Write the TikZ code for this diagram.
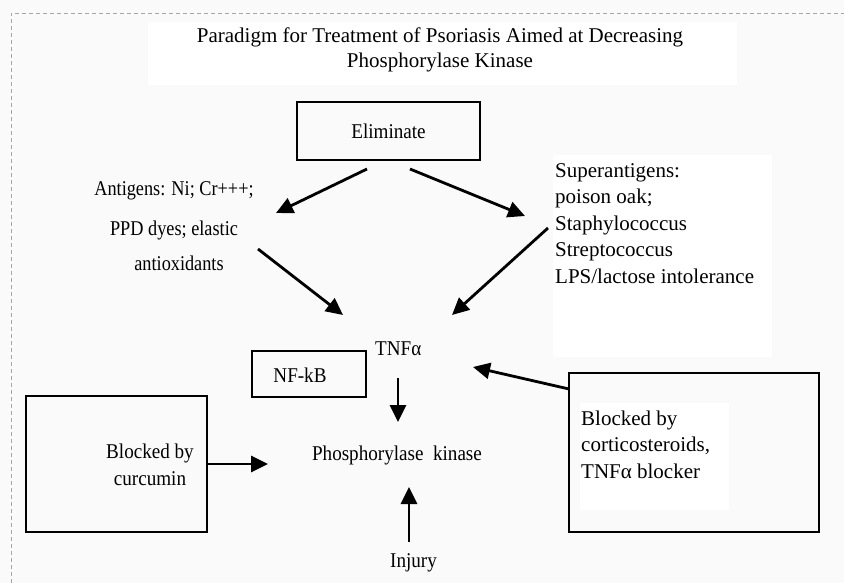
\documentclass[tikz,border=0pt]{standalone}
\usepackage{fontspec}
\setmainfont{Liberation Serif}
\newfontfamily\condA[FakeStretch=0.87]{Liberation Serif}
\newfontfamily\condB[FakeStretch=0.91]{Liberation Serif}
\usetikzlibrary{arrows.meta}
\tikzset{
  txt/.style={inner sep=0pt, font=\fontsize{21}{25}\selectfont},
  ctxt/.style={inner sep=0pt, font=\fontsize{21}{25}\condB},
  boxdraw/.style={draw=black, line width=2pt, inner sep=0pt},
  arr/.style={line width=2.8pt, -{Triangle[length=17pt,width=16pt]}},
}
\begin{document}
\begin{tikzpicture}[x=1pt,y=-1pt]
\useasboundingbox (0,0) rectangle (844,583);
% background
\fill[black!2] (0,0) rectangle (844,583);
\fill[white] (148,22) rectangle (737,85);
\fill[white] (553,155) rectangle (772,357);
% dashed frame
\draw[black!35, line width=0.8pt, dash pattern=on 4pt off 3pt] (11,583) -- (11,13) -- (844,13);

% title
\node[txt, align=center, anchor=base] (title) at (440,68)
  {Paradigm for Treatment of Psoriasis Aimed at Decreasing\\Phosphorylase Kinase};

% eliminate
\node[boxdraw, ctxt, minimum width=183pt, minimum height=58pt] (elim) at (388.5,131) {Eliminate};

% antigens
\node[inner sep=0pt, font=\fontsize{21}{25}\condA, align=center, anchor=base] (antigens) at (174,270)
  {Antigens: Ni; Cr+++;\\[15pt]PPD dyes; elastic\\[10pt]\hspace*{10pt}antioxidants};

% superantigens
\node[inner sep=0pt, font=\fontsize{21}{26.5}\selectfont, align=left, anchor=base west] (super) at (555,283)
  {Superantigens:\\poison oak;\\Staphylococcus\\Streptococcus\\LPS/lactose intolerance};

% TNF
\node[ctxt, anchor=base west] (tnf) at (375,355) {TNFα};

% NF-kB box
\node[boxdraw, minimum width=114pt, minimum height=46pt] (nfkbbox) at (309,374) {};
\node[ctxt, anchor=base] (nfkb) at (300,382) {NF-kB};

% Phosphorylase kinase
\node[ctxt, anchor=base] (pk) at (397,460) {Phosphorylase\ \ kinase};

% Injury
\node[ctxt, anchor=base] (injury) at (413.5,567) {Injury};

% curcumin box
\node[boxdraw, minimum width=181pt, minimum height=136pt] (curbox) at (116.5,464) {};
\node[inner sep=0pt, font=\fontsize{21}{27}\condB, align=center, anchor=base] (curtext) at (150,485) {Blocked by\\curcumin};

% right box
\node[boxdraw, minimum width=250pt, minimum height=159pt] (cortbox) at (694,452.5) {};
\fill[white] (580,403) rectangle (729,510);
\node[inner sep=0pt, font=\fontsize{21}{26.5}\selectfont, align=left, anchor=base west] (corttext) at (581,478)
  {Blocked by\\corticosteroids,\\TNFα blocker};

% arrow end points
\coordinate (e1s) at (367,169); \coordinate (e1t) at (276,213);
\coordinate (e2s) at (410,169); \coordinate (e2t) at (525,216);
\coordinate (e3s) at (258,249); \coordinate (e3t) at (343,315);
\coordinate (e4s) at (548,228); \coordinate (e4t) at (452,315);
\coordinate (e5s) at (398,378); \coordinate (e5t) at (398,422);
\coordinate (e6s) at (409,542); \coordinate (e6t) at (409,487);
\coordinate (e7t) at (268,464);
\coordinate (e8s) at (569,389); \coordinate (e8t) at (473,367);

\draw[arr] (e1s) -- (e1t);
\draw[arr] (e2s) -- (e2t);
\draw[arr] (e3s) -- (e3t);
\draw[arr] (e4s) -- (e4t);
\draw[arr] (e5s) -- (e5t);
\draw[arr] (e6s) -- (e6t);
\draw[arr] (curbox.east) -- (e7t);
\draw[arr] (e8s) -- (e8t);
\end{tikzpicture}
\end{document}
